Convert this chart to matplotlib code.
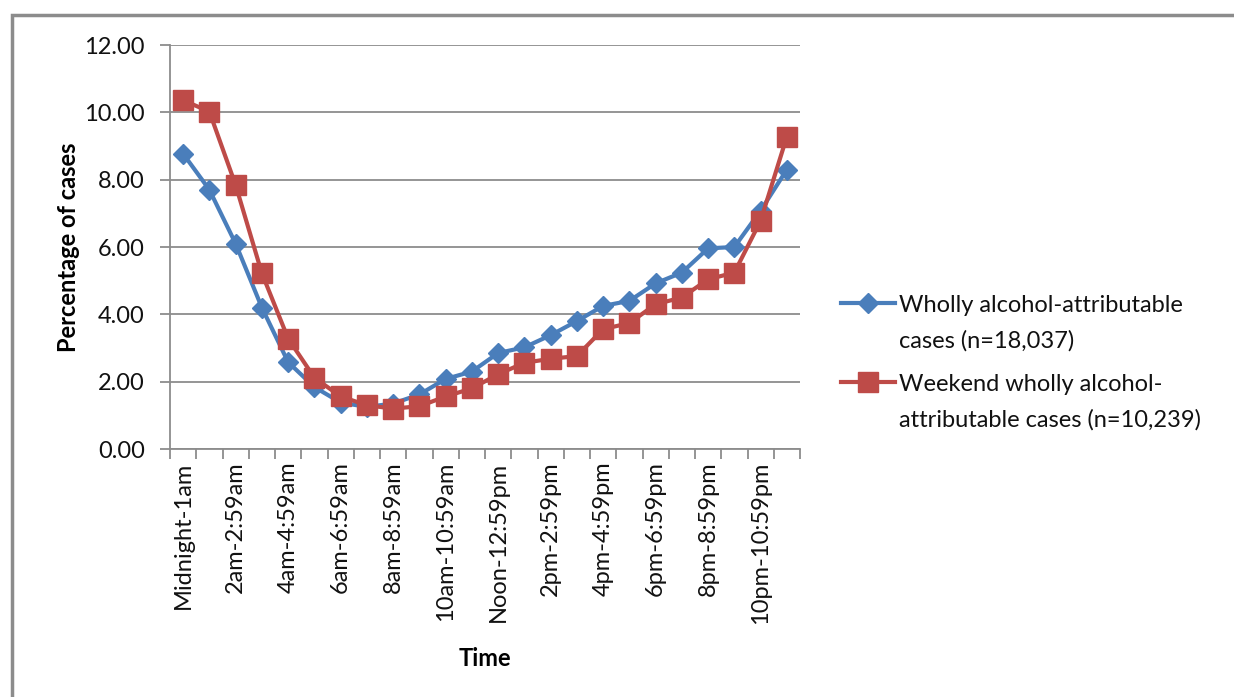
import matplotlib
matplotlib.use("Agg")
import matplotlib.pyplot as plt
from matplotlib.patches import Rectangle
from matplotlib.ticker import FixedLocator, FormatStrFormatter

plt.rcParams['font.family'] = ['Lato', 'DejaVu Sans']

# hourly categories (every other one is labelled on the axis)
hours = ["Midnight-1am", "1am-1:59am", "2am-2:59am", "3am-3:59am",
         "4am-4:59am", "5am-5:59am", "6am-6:59am", "7am-7:59am",
         "8am-8:59am", "9am-9:59am", "10am-10:59am", "11am-11:59am",
         "Noon-12:59pm", "1pm-1:59pm", "2pm-2:59pm", "3pm-3:59pm",
         "4pm-4:59pm", "5pm-5:59pm", "6pm-6:59pm", "7pm-7:59pm",
         "8pm-8:59pm", "9pm-9:59pm", "10pm-10:59pm", "11pm-11:59pm"]

wholly = [8.77, 7.70, 6.10, 4.20, 2.58, 1.84, 1.38, 1.25, 1.35, 1.62,
          2.08, 2.30, 2.85, 3.02, 3.38, 3.80, 4.25, 4.40, 4.92, 5.24,
          5.96, 6.00, 7.08, 8.30]
weekend = [10.36, 10.02, 7.84, 5.22, 3.28, 2.12, 1.56, 1.30, 1.20, 1.27,
           1.56, 1.80, 2.22, 2.56, 2.68, 2.76, 3.56, 3.74, 4.30, 4.50,
           5.04, 5.24, 6.78, 9.28]

label_wholly = "Wholly alcohol-attributable\ncases (n=18,037)"
label_weekend = "Weekend wholly alcohol-\nattributable cases (n=10,239)"

W, H = 1234, 697
fig = plt.figure(figsize=(W / 100, H / 100), dpi=100)
ax = fig.add_axes([170 / W, 1 - 449 / H, 630 / W, 404 / H])

grid_c = "#8c8c8c"
x = list(range(len(hours)))
ax.plot(x, wholly, color="#4a7ebb", lw=3, marker="D", ms=10.5,
        label=label_wholly)
ax.plot(x, weekend, color="#be4b48", lw=3, marker="s", ms=14,
        label=label_weekend)

ax.set_xlim(-0.5, len(hours) - 0.5)
ax.set_ylim(0, 12)
ax.set_yticks(range(0, 13, 2))
ax.yaxis.set_major_formatter(FormatStrFormatter("%.2f"))
ax.yaxis.grid(True, color=grid_c, lw=1.3)
ax.set_axisbelow(True)

ax.set_xticks(x[::2])
ax.set_xticklabels(hours[::2], rotation=90)
ax.xaxis.set_minor_locator(FixedLocator([i - 0.5 for i in range(len(hours) + 1)]))
ax.tick_params(axis="x", which="major", length=0, pad=9, labelsize=17,
               labelcolor="#111111")
ax.tick_params(axis="x", which="minor", length=7, width=1.3, color=grid_c)
ax.tick_params(axis="y", length=7, width=1.3, color=grid_c, pad=11,
               labelsize=17, labelcolor="#111111")

for s in ["top", "right"]:
    ax.spines[s].set_visible(False)
for s in ["left", "bottom"]:
    ax.spines[s].set_color(grid_c)
    ax.spines[s].set_linewidth(1.3)

ax.set_ylabel("Percentage of cases", fontsize=17, fontweight="bold",
              labelpad=3)
ax.set_xlabel("Time", fontsize=17, fontweight="bold", labelpad=17)

leg = ax.legend(loc="upper left", bbox_to_anchor=(829 / W, 1 - 283 / H),
                bbox_transform=fig.transFigure, frameon=False, fontsize=17,
                handlelength=2.3, handletextpad=0.15, labelspacing=0.95,
                borderpad=0)
for t in leg.get_texts():
    t.set_linespacing(1.8)
    t.set_color("#111111")
for col in leg._legend_handle_box.get_children():
    for item in col.get_children():
        item.align = "top"

# outer chart frame
fig.add_artist(Rectangle((12 / W, -0.1), 1.2, (H - 15) / H + 0.1,
                         transform=fig.transFigure, fill=False,
                         edgecolor=grid_c, lw=2.5))

fig.savefig("out.png", dpi=100)
